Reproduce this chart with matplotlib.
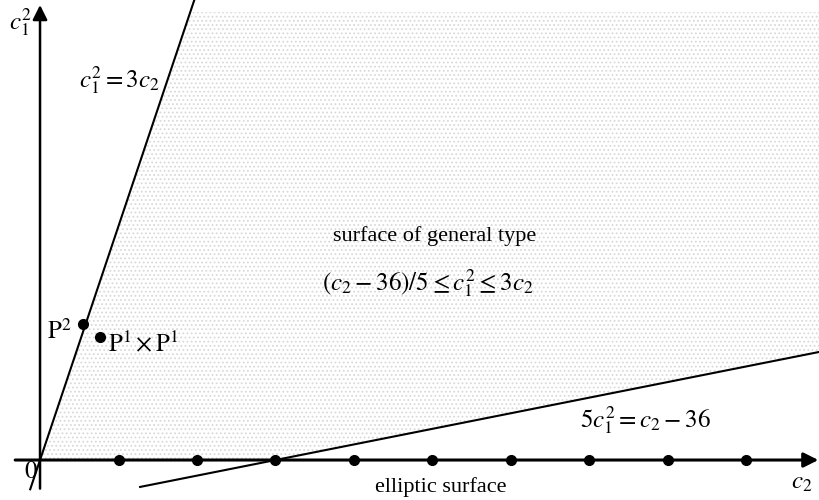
import numpy as np
import matplotlib.pyplot as plt
from matplotlib.patches import Polygon

plt.rcParams['mathtext.fontset'] = 'stix'
plt.rcParams['font.family'] = 'serif'
plt.rcParams['font.serif'] = ['Liberation Serif', 'DejaVu Serif']
plt.rcParams['hatch.color'] = '#d9d9d9'
plt.rcParams['hatch.linewidth'] = 0.8

# schematic data (c2, c1^2)
elliptic_c2 = [12, 24, 36, 48, 60, 72, 84, 96, 108]
elliptic_c1sq = [0] * len(elliptic_c2)
special_names = ['P2', 'P1xP1']
special_c2 = [6.5, 9.2]
special_c1sq = [20.9, 18.9]
bmy_slope = 3          # c1^2 = 3 c2
noether_offset = 36    # 5 c1^2 = c2 - 36

xmin, xmax = -6.12, 119.1
ymin, ymax = -6.15, 70.77

fig = plt.figure(figsize=(8.19, 5), dpi=100)
ax = fig.add_axes([0, 0, 1, 1])
ax.set_xlim(xmin, xmax)
ax.set_ylim(ymin, ymax)
ax.axis('off')

# shaded region between the two lines
ytop = 68.9
region = Polygon([(0, 0), (ytop / bmy_slope, ytop), (xmax, ytop),
                  (xmax, (xmax - noether_offset) / 5), (noether_offset, 0)],
                 closed=True, facecolor='white', edgecolor='#d9d9d9',
                 hatch='....', linewidth=0, zorder=0)
ax.add_patch(region)

# axes with arrows
ax.annotate('', xy=(119.0, 0), xytext=(-3.8, 0),
            arrowprops=dict(arrowstyle='-|>', lw=2.2, color='black',
                            mutation_scale=22, shrinkA=0, shrinkB=0))
ax.annotate('', xy=(0, 70.0), xytext=(0, -4.4),
            arrowprops=dict(arrowstyle='-|>', lw=1.8, color='black',
                            mutation_scale=22, shrinkA=0, shrinkB=0))

# c1^2 = 3 c2
x1 = np.array([-1.5, 71.7 / bmy_slope])
ax.plot(x1, bmy_slope * x1, color='black', lw=1.5)

# 5 c1^2 = c2 - 36
x2 = np.array([15.3, xmax])
ax.plot(x2, (x2 - noether_offset) / 5, color='black', lw=1.5)

ax.plot(elliptic_c2, elliptic_c1sq, 'o', color='black', ms=7, zorder=5)
ax.plot(special_c2, special_c1sq, 'o', color='black', ms=7, zorder=5)

fs = 16
fm = 18
ax.text(-3.06, 67.4, r'$c_1^2$', fontsize=fm, ha='center', va='center')
ax.text(18.35, 58.5, r'$c_1^2 = 3c_2$', fontsize=fm, ha='right', va='center')
ax.text(4.9, 19.85, r'$\mathrm{P}^2$', fontsize=fm, ha='right', va='center')
ax.text(10.4, 18.0, r'$\mathrm{P}^1 \times \mathrm{P}^1$', fontsize=fm, ha='left', va='center')
ax.text(-0.3, -0.15, r'$0$', fontsize=fm, ha='right', va='top')
ax.text(60.4, 34.5, 'surface of general type', fontsize=fs, ha='center', va='center')
ax.text(59.3, 27.2, r'$(c_2 - 36)/5 \leq c_1^2 \leq 3c_2$', fontsize=fm, ha='center', va='center')
ax.text(82.6, 6.15, r'$5c_1^2 = c_2 - 36$', fontsize=fm, ha='left', va='center')
ax.text(116.4, -3.5, r'$c_2$', fontsize=fm, ha='center', va='center')
ax.text(61.3, -4.15, 'elliptic surface', fontsize=fs, ha='center', va='center')

fig.savefig('out.png', dpi=100)
